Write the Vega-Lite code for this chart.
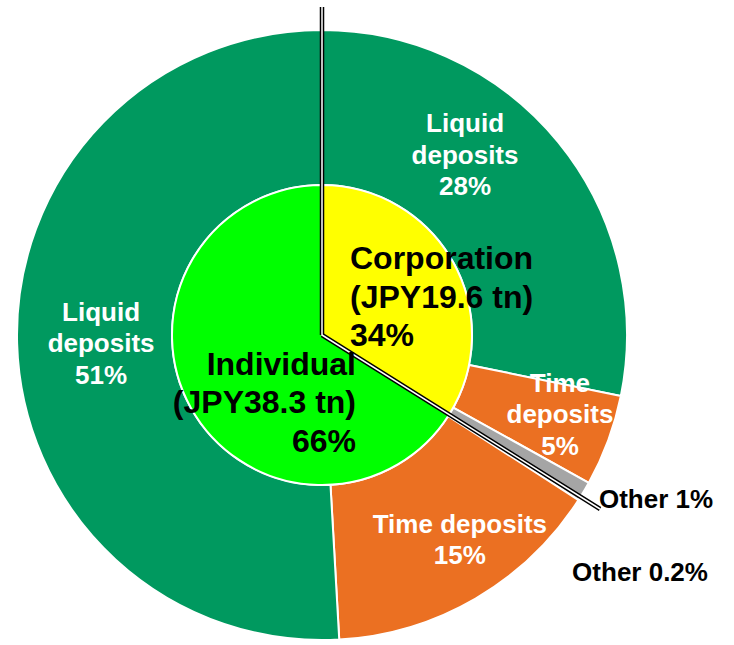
{
  "$schema": "https://vega.github.io/schema/vega-lite/v6.json",
  "autosize": "none",
  "width": 644,
  "height": 620,
  "padding": {"left": 0, "top": 25, "right": 90, "bottom": 0},
  "background": "white",
  "view": {"stroke": null},
  "datasets": {
    "outer": [
      {"id": "c_liq", "owner": "Corporation", "seg": "Liquid deposits", "value": 28.2, "order": 1, "label": "Liquid\ndeposits\n28%"},
      {"id": "c_time", "owner": "Corporation", "seg": "Time deposits", "value": 4.85, "order": 2, "label": "Time\ndeposits\n5%"},
      {"id": "c_oth", "owner": "Corporation", "seg": "Other", "value": 0.85, "order": 3, "label": "Other 1%"},
      {"id": "i_oth", "owner": "Individual", "seg": "Other", "value": 0.2, "order": 4, "label": "Other 0.2%"},
      {"id": "i_time", "owner": "Individual", "seg": "Time deposits", "value": 15.0, "order": 5, "label": "Time deposits\n15%"},
      {"id": "i_liq", "owner": "Individual", "seg": "Liquid deposits", "value": 50.9, "order": 6, "label": "Liquid\ndeposits\n51%"}
    ],
    "inner": [
      {"id": "corp", "seg": "Corporation", "value": 33.9, "order": 1, "label": "Corporation\n(JPY19.6 tn)\n34%"},
      {"id": "ind", "seg": "Individual", "value": 66.1, "order": 2, "label": "Individual\n(JPY38.3 tn)\n66%"}
    ],
    "lines": [
      {"boundary": "start", "pos": 0},
      {"boundary": "Corporation/Individual", "pos": 33.9}
    ]
  },
  "layer": [
    {
      "data": {"name": "outer"},
      "mark": {"type": "arc", "innerRadius": 150, "outerRadius": 305, "stroke": "white", "strokeWidth": 2},
      "encoding": {
        "theta": {"field": "value", "type": "quantitative", "stack": true, "scale": {"domain": [0, 100]}},
        "order": {"field": "order", "type": "quantitative"},
        "color": {"field": "seg", "type": "nominal", "legend": null,
          "scale": {"domain": ["Liquid deposits", "Time deposits", "Other", "Corporation", "Individual"],
                    "range": ["#00995F", "#EB7022", "#A5A5A5", "#FFFF00", "#00FF00"]}}
      }
    },
    {
      "data": {"name": "inner"},
      "mark": {"type": "arc", "innerRadius": 0, "outerRadius": 150, "stroke": "white", "strokeWidth": 2},
      "encoding": {
        "theta": {"field": "value", "type": "quantitative", "stack": true, "scale": {"domain": [0, 100]}},
        "order": {"field": "order", "type": "quantitative"},
        "color": {"field": "seg", "type": "nominal", "legend": null,
          "scale": {"domain": ["Liquid deposits", "Time deposits", "Other", "Corporation", "Individual"],
                    "range": ["#00995F", "#EB7022", "#A5A5A5", "#FFFF00", "#00FF00"]}}
      }
    },
    {
      "data": {"name": "lines"},
      "mark": {"type": "arc", "innerRadius": 0, "outerRadius": 328, "fill": "black", "fillOpacity": 0, "stroke": "black", "strokeWidth": 4.5},
      "encoding": {
        "theta": {"field": "pos", "type": "quantitative", "stack": null, "scale": {"domain": [0, 100]}},
        "theta2": {"field": "pos"}
      }
    },
    {
      "data": {"name": "lines"},
      "mark": {"type": "arc", "innerRadius": 0, "outerRadius": 328, "fill": "white", "fillOpacity": 0, "stroke": "white", "strokeWidth": 1.5},
      "encoding": {
        "theta": {"field": "pos", "type": "quantitative", "stack": null, "scale": {"domain": [0, 100]}},
        "theta2": {"field": "pos"}
      }
    },
    {
      "data": {"name": "outer"},
      "mark": {"type": "text", "radius": 226, "dx": -32, "dy": -68, "font": "Liberation Sans", "fontWeight": "bold", "fontSize": 26, "lineHeight": 31.5, "lineBreak": "\n", "fill": "white", "align": "center", "baseline": "middle"},
      "encoding": {
        "theta": {"field": "value", "type": "quantitative", "stack": true, "scale": {"domain": [0, 100]}},
        "order": {"field": "order", "type": "quantitative"},
        "text": {"condition": {"test": "datum.id === 'c_liq'", "field": "label", "type": "nominal"}, "value": ""}
      }
    },
    {
      "data": {"name": "outer"},
      "mark": {"type": "text", "radius": 250, "dx": 3.4, "dy": -38, "font": "Liberation Sans", "fontWeight": "bold", "fontSize": 26, "lineHeight": 31.5, "lineBreak": "\n", "fill": "white", "align": "center", "baseline": "middle"},
      "encoding": {
        "theta": {"field": "value", "type": "quantitative", "stack": true, "scale": {"domain": [0, 100]}},
        "order": {"field": "order", "type": "quantitative"},
        "text": {"condition": {"test": "datum.id === 'c_time'", "field": "label", "type": "nominal"}, "value": ""}
      }
    },
    {
      "data": {"name": "outer"},
      "mark": {"type": "text", "radius": 321, "dx": 0.4, "dy": 1.6, "font": "Liberation Sans", "fontWeight": "bold", "fontSize": 26, "fill": "black", "align": "left", "baseline": "middle"},
      "encoding": {
        "theta": {"field": "value", "type": "quantitative", "stack": true, "scale": {"domain": [0, 100]}},
        "order": {"field": "order", "type": "quantitative"},
        "text": {"condition": {"test": "datum.id === 'c_oth'", "field": "label", "type": "nominal"}, "value": ""}
      }
    },
    {
      "data": {"name": "outer"},
      "mark": {"type": "text", "radius": 330, "dx": 39.4, "dy": 60.7, "font": "Liberation Sans", "fontWeight": "bold", "fontSize": 26, "fill": "black", "align": "center", "baseline": "middle"},
      "encoding": {
        "theta": {"field": "value", "type": "quantitative", "stack": true, "scale": {"domain": [0, 100]}},
        "order": {"field": "order", "type": "quantitative"},
        "text": {"condition": {"test": "datum.id === 'i_oth'", "field": "label", "type": "nominal"}, "value": ""}
      }
    },
    {
      "data": {"name": "outer"},
      "mark": {"type": "text", "radius": 240, "dx": 17, "dy": -17.75, "font": "Liberation Sans", "fontWeight": "bold", "fontSize": 26, "lineHeight": 31.5, "lineBreak": "\n", "fill": "white", "align": "center", "baseline": "middle"},
      "encoding": {
        "theta": {"field": "value", "type": "quantitative", "stack": true, "scale": {"domain": [0, 100]}},
        "order": {"field": "order", "type": "quantitative"},
        "text": {"condition": {"test": "datum.id === 'i_time'", "field": "label", "type": "nominal"}, "value": ""}
      }
    },
    {
      "data": {"name": "outer"},
      "mark": {"type": "text", "radius": 221, "dx": 0, "dy": -28.3, "font": "Liberation Sans", "fontWeight": "bold", "fontSize": 26, "lineHeight": 31.5, "lineBreak": "\n", "fill": "white", "align": "center", "baseline": "middle"},
      "encoding": {
        "theta": {"field": "value", "type": "quantitative", "stack": true, "scale": {"domain": [0, 100]}},
        "order": {"field": "order", "type": "quantitative"},
        "text": {"condition": {"test": "datum.id === 'i_liq'", "field": "label", "type": "nominal"}, "value": ""}
      }
    },
    {
      "data": {"name": "inner"},
      "mark": {"type": "text", "radius": 60, "dx": -24.5, "dy": -46.5, "font": "Liberation Sans", "fontWeight": "bold", "fontSize": 32, "lineHeight": 38.5, "lineBreak": "\n", "fill": "black", "align": "left", "baseline": "middle"},
      "encoding": {
        "theta": {"field": "value", "type": "quantitative", "stack": true, "scale": {"domain": [0, 100]}},
        "order": {"field": "order", "type": "quantitative"},
        "text": {"condition": {"test": "datum.id === 'corp'", "field": "label", "type": "nominal"}, "value": ""}
      }
    },
    {
      "data": {"name": "inner"},
      "mark": {"type": "text", "radius": 60, "dx": 86.5, "dy": 0.9, "font": "Liberation Sans", "fontWeight": "bold", "fontSize": 32, "lineHeight": 38.5, "lineBreak": "\n", "fill": "black", "align": "right", "baseline": "middle"},
      "encoding": {
        "theta": {"field": "value", "type": "quantitative", "stack": true, "scale": {"domain": [0, 100]}},
        "order": {"field": "order", "type": "quantitative"},
        "text": {"condition": {"test": "datum.id === 'ind'", "field": "label", "type": "nominal"}, "value": ""}
      }
    }
  ]
}
